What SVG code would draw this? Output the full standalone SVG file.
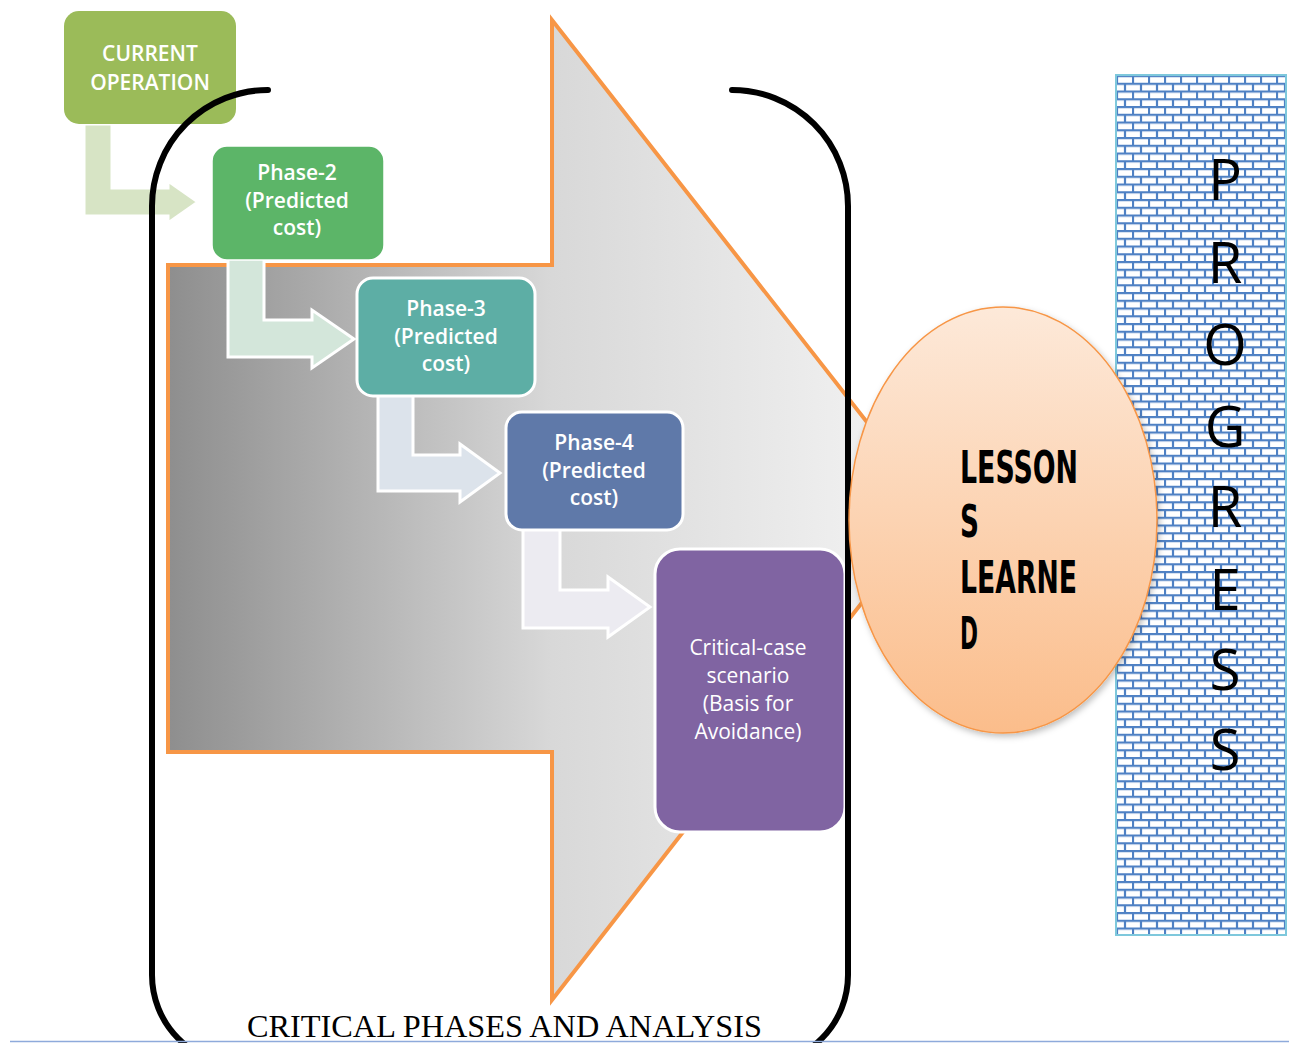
<svg xmlns="http://www.w3.org/2000/svg" width="1289" height="1043" viewBox="0 0 1289 1043">
<defs>
<linearGradient id="bigArrowGrad" x1="168" y1="0" x2="935" y2="0" gradientUnits="userSpaceOnUse">
<stop offset="0" stop-color="#8e8e8e"/>
<stop offset="0.5" stop-color="#d8d8d8"/>
<stop offset="1" stop-color="#f5f5f5"/>
</linearGradient>
<linearGradient id="ellGrad" x1="0" y1="0" x2="0" y2="1">
<stop offset="0" stop-color="#fde9d9"/>
<stop offset="1" stop-color="#fbbd8b"/>
</linearGradient>
<pattern id="bricks" x="1116" y="75" width="16" height="15.5" patternUnits="userSpaceOnUse">
<rect width="16" height="15.5" fill="#ffffff"/>
<path d="M0,1 H16 M0,8.75 H16 M1,1 V8.75 M9,8.75 V16.5" stroke="#4f81c4" stroke-width="2.2" fill="none"/>
</pattern>
<filter id="shadow" x="-10%" y="-10%" width="125%" height="125%">
<feDropShadow dx="2" dy="3" stdDeviation="3" flood-color="#000000" flood-opacity="0.25"/>
</filter>
<style>
.node-text{font-family:"Open Sans","Noto Sans","Liberation Sans",sans-serif;font-size:21px;fill:#ffffff;text-anchor:middle;font-weight:600;}
.crit-text{font-family:"Open Sans","Noto Sans","Liberation Sans",sans-serif;font-size:21px;fill:#ffffff;text-anchor:middle;font-weight:400;}
.bent{stroke:#ffffff;stroke-width:3;stroke-linejoin:miter;}
.bracket{fill:none;stroke:#000000;stroke-width:6;stroke-linecap:round;}
.lesson{font-family:"DejaVu Sans Condensed","DejaVu Sans","Liberation Sans",sans-serif;font-size:44px;fill:#000000;font-weight:700;}
.prog{font-family:"Open Sans","Noto Sans","Liberation Sans",sans-serif;font-size:56px;fill:#000000;text-anchor:middle;}
</style>
</defs>
<rect x="0" y="0" width="1289" height="1043" fill="#ffffff"/>

<g id="big-arrow">
<path d="M168,265 L552,265 L552,20 L935,509 L552,1000 L552,752 L168,752 Z" fill="url(#bigArrowGrad)" stroke="#f79646" stroke-width="4"/>
</g>

<g id="progress">
<rect x="1116" y="75" width="170" height="860" fill="url(#bricks)" stroke="#7ec8dc" stroke-width="2"/>
<text class="prog" x="1225" y="200">P</text>
<text class="prog" x="1225" y="283">R</text>
<text class="prog" x="1225" y="365">O</text>
<text class="prog" x="1225" y="447">G</text>
<text class="prog" x="1225" y="527">R</text>
<text class="prog" x="1225" y="610">E</text>
<text class="prog" x="1225" y="690">S</text>
<text class="prog" x="1225" y="770">S</text>
</g>

<g id="connectors">
<path class="bent" d="M84,124 L112,124 L112,188 L168,188 L168,181 L198,202 L168,223 L168,216 L84,216 Z" fill="#d7e4c5" stroke="none"/>
<path class="bent" d="M228,258 L264,258 L264,320 L312,320 L312,310 L354,339 L312,368 L312,357 L228,357 Z" fill="#d3e6da"/>
<path class="bent" d="M378,394 L413,394 L413,455 L460,455 L460,444 L500,473 L460,502 L460,491 L378,491 Z" fill="#dce3eb"/>
<path class="bent" d="M523,528 L560,528 L560,590 L608,590 L608,577 L650,607 L608,637 L608,628 L523,628 Z" fill="#ecebf1"/>
</g>

<g id="current-operation">
<rect x="64" y="11" width="172" height="113" rx="15" fill="#9bbb59"/>
<text class="node-text" x="150" y="61">CURRENT</text>
<text class="node-text" x="150" y="90">OPERATION</text>
</g>

<g id="phase-2">
<rect x="212" y="146" width="172" height="114" rx="15" fill="#5cb568" stroke="#ffffff" stroke-width="1.5"/>
<text class="node-text" x="297" y="180">Phase-2</text>
<text class="node-text" x="297" y="208">(Predicted</text>
<text class="node-text" x="297" y="235">cost)</text>
</g>

<g id="phase-3">
<rect x="357" y="278" width="178" height="118" rx="16" fill="#5daea5" stroke="#ffffff" stroke-width="3"/>
<text class="node-text" x="446" y="316">Phase-3</text>
<text class="node-text" x="446" y="344">(Predicted</text>
<text class="node-text" x="446" y="371">cost)</text>
</g>

<g id="phase-4">
<rect x="506" y="412" width="177" height="118" rx="16" fill="#5f79a9" stroke="#ffffff" stroke-width="3"/>
<text class="node-text" x="594" y="450">Phase-4</text>
<text class="node-text" x="594" y="478">(Predicted</text>
<text class="node-text" x="594" y="505">cost)</text>
</g>

<g id="critical-case">
<rect x="655" y="549" width="190" height="283" rx="25" fill="#8064a2" stroke="#ffffff" stroke-width="3"/>
<text class="crit-text" x="748" y="655">Critical-case</text>
<text class="crit-text" x="748" y="683">scenario</text>
<text class="crit-text" x="748" y="711">(Basis for</text>
<text class="crit-text" x="748" y="739">Avoidance)</text>
</g>

<g id="bracket">
<path class="bracket" d="M268,90 A116,116 0 0 0 152,206 L152,975 A90,90 0 0 0 242,1065"/>
<path class="bracket" d="M732,90 A116,116 0 0 1 848,206 L848,975 A90,90 0 0 1 758,1065"/>
</g>

<g id="lessons-learned">
<ellipse cx="1003" cy="520" rx="154" ry="213" fill="url(#ellGrad)" stroke="#f79646" stroke-width="1.5" filter="url(#shadow)"/>
<text class="lesson" x="960" y="483" textLength="118" lengthAdjust="spacingAndGlyphs">LESSON</text>
<text class="lesson" x="960" y="537" textLength="19" lengthAdjust="spacingAndGlyphs">S</text>
<text class="lesson" x="960" y="593" textLength="117" lengthAdjust="spacingAndGlyphs">LEARNE</text>
<text class="lesson" x="960" y="649" textLength="18" lengthAdjust="spacingAndGlyphs">D</text>
</g>

<g id="caption">
<text x="247" y="1037" font-family="Liberation Serif, serif" font-size="31" fill="#000000" textLength="515" lengthAdjust="spacingAndGlyphs">CRITICAL PHASES AND ANALYSIS</text>
</g>
<line x1="10" y1="1041.5" x2="1289" y2="1041.5" stroke="#8eaadb" stroke-width="1.5"/>
</svg>
